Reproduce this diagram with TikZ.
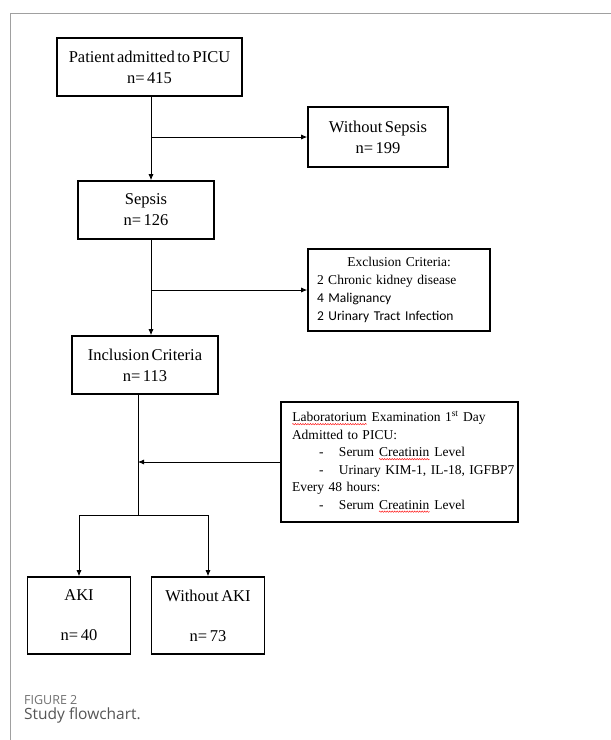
\documentclass[tikz,border=0pt]{standalone}
\usepackage{fontspec}
\setmainfont[WordSpace=0.6]{Liberation Serif}
\newfontfamily\calibri{Carlito}
\newfontfamily\capfont{Open Sans}
\usetikzlibrary{arrows.meta,positioning,decorations.pathmorphing}
\definecolor{framegray}{HTML}{A0A0A0}
\definecolor{capgray}{HTML}{707070}
\definecolor{textgray}{HTML}{555555}
\newcommand\spellmark[1]{\tikz[baseline=(sw.base)]{%
  \node[draw=none, inner sep=0pt, text width={}, align=none, minimum size=0pt] (sw) {#1};
  \draw[red, line width=0.4pt, decorate, decoration={snake, amplitude=0.7pt, segment length=2.5pt}]
    ([yshift=-2.2pt]sw.base west) -- ([yshift=-2.2pt]sw.base east);}}
\newcommand\bullline[1]{\mbox{\hspace*{27pt}-\hspace{15.5pt}#1}}
\tikzset{
  box/.style={draw, line width=1.6pt, align=center, inner sep=0pt,
    font=\fontsize{16.5}{21}\selectfont},
  listbox/.style={draw, line width=1.6pt, align=left, inner xsep=9pt, inner ysep=0pt},
  line/.style={line width=0.8pt},
  arr/.style={line, -{Latex[length=6pt,width=5pt]}}
}
\begin{document}
\begin{tikzpicture}[x=1pt,y=-1pt]
	\useasboundingbox (0,0) rectangle (611,740);
	% frame of the figure
	\draw[framegray, line width=0.8pt] (611,13) -- (10,13) -- (10,740);
	% boxes
	\node[box, minimum width=185pt, minimum height=58pt] (patient) at (149.5,67) {Patient admitted to PICU\\n= 415};
	\node[box, minimum width=140pt, minimum height=60pt] (nosepsis) at (378,137) {Without Sepsis\\n= 199};
	\node[box, minimum width=136pt, minimum height=58pt] (sepsis) at (146,210) {Sepsis\\n= 126};
	\node[listbox, text width=164pt, minimum height=82pt, font=\fontsize{13.5}{18}\selectfont] (exclusion) at (399,290)
		{\makebox[164pt]{Exclusion Criteria:}\\
		 2 Chronic kidney disease\\
		 {\calibri 4 Malignancy}\\
		 {\calibri 2 Urinary Tract Infection}};
	\node[box, minimum width=146pt, minimum height=58pt] (inclusion) at (145,365) {Inclusion Criteria\\n= 113};
	\node[listbox, text width=215pt, inner xsep=11pt, minimum height=120pt, font=\fontsize{13.5}{17.5}\selectfont] (lab) at (399.5,462)
		{\spellmark{Laboratorium} Examination 1\textsuperscript{st} Day\\
		 Admitted to PICU:\\
		 \bullline{Serum \spellmark{Creatinin} Level}\\
		 \bullline{Urinary KIM-1, IL-18, IGFBP7}\\
		 Every 48 hours:\\
		 \bullline{Serum \spellmark{Creatinin} Level}};
	\node[box, minimum width=103pt, minimum height=77pt] (aki) at (79,615.5) {AKI\\[19pt]n= 40};
	\node[box, minimum width=113pt, minimum height=77pt] (noaki) at (208,615.5) {Without AKI\\[19pt]n= 73};
	% connectors
	\coordinate (trunk) at (151,0);
	\coordinate (lowtrunk) at (138,0);
	\coordinate (split) at (138,515);
	\draw[arr] (patient.south -| trunk) -- (sepsis.north -| trunk);
	\draw[arr] (nosepsis.west -| trunk) -- (nosepsis.west);
	\draw[arr] (sepsis.south -| trunk) -- (inclusion.north -| trunk);
	\draw[arr] (exclusion.west -| trunk) -- (exclusion.west);
	\draw[line] (inclusion.south -| lowtrunk) -- (split);
	\draw[arr] (lab.west) -- (lab.west -| lowtrunk);
	\draw[arr] (split) -| (aki.north);
	\draw[arr] (split) -| (noaki.north);
	% caption
	\node[anchor=base west, inner sep=0pt, text=capgray, font=\capfont\fontsize{12.5}{15}\selectfont] (figlabel) at (24,704) {FIGURE 2};
	\node[anchor=base west, inner sep=0pt, text=textgray, font=\capfont\fontsize{15.5}{18}\selectfont] (figtitle) at (24,719.5) {Study flowchart.};
\end{tikzpicture}
\end{document}
